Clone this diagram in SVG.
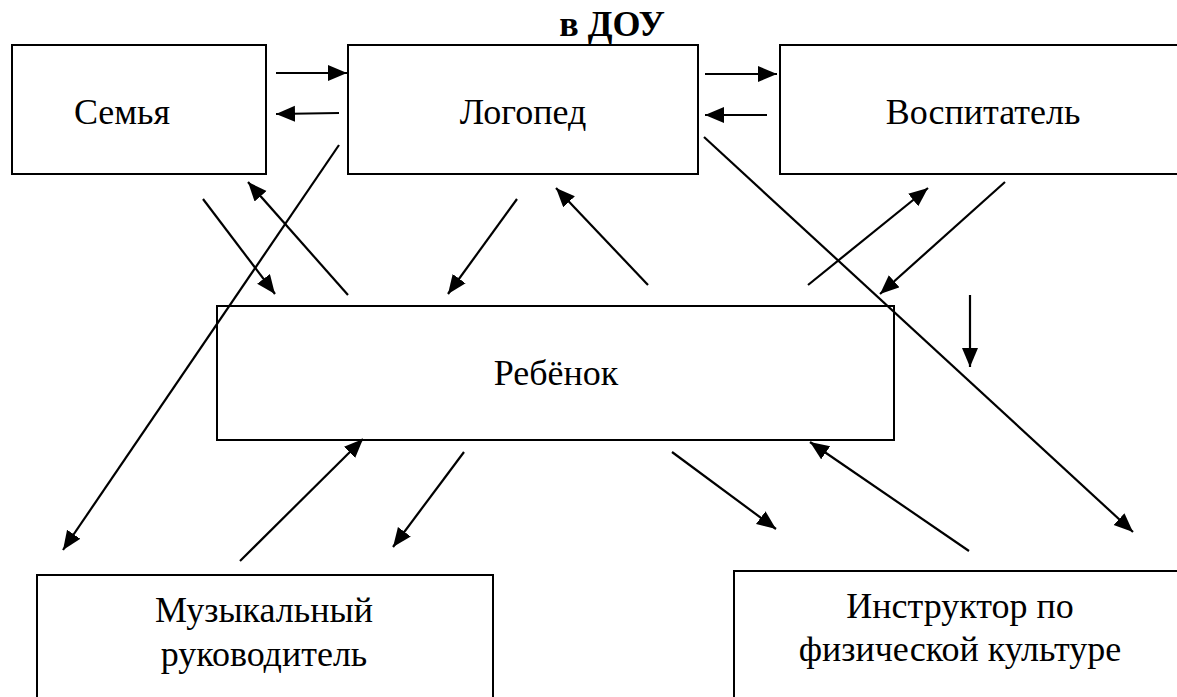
<svg xmlns="http://www.w3.org/2000/svg" width="1177" height="697" viewBox="0 0 1177 697">
<style>
.box{fill:#fff;stroke:#000;stroke-width:2}
.c line{stroke:#000;stroke-width:2.2}
.a{marker-end:url(#ah)}
</style>
<defs>
<marker id="ah" markerUnits="userSpaceOnUse" markerWidth="22" markerHeight="18" refX="19" refY="8" orient="auto">
<path d="M0,0 L19,8 L0,16 z" fill="#000"/>
</marker>
</defs>
<rect width="1177" height="697" fill="#fff"/>
<g font-family="Liberation Serif" font-size="36" fill="#000" text-anchor="middle">
<text x="612" y="36" font-weight="bold">в ДОУ</text>
<g id="family"><rect class="box" x="12" y="45" width="254" height="129"/><text x="122" y="124">Семья</text></g>
<g id="logoped"><rect class="box" x="348" y="45" width="350" height="129"/><text x="523" y="124">Логопед</text></g>
<g id="vospitatel"><rect class="box" x="780" y="45" width="410" height="129"/><text x="983" y="124">Воспитатель</text></g>
<g id="rebenok"><rect class="box" x="217" y="306" width="677" height="134"/><text x="556" y="385">Ребёнок</text></g>
<g id="music"><rect class="box" x="37" y="575" width="456" height="140"/><text x="264" y="622">Музыкальный</text><text x="264" y="666">руководитель</text></g>
<g id="instructor"><rect class="box" x="734" y="571" width="460" height="140"/><text x="960" y="618">Инструктор по</text><text x="960" y="661">физической культуре</text></g>
</g>
<g class="c" id="connectors">
<line class="a" x1="276" y1="73" x2="347" y2="73"/>
<line class="a" x1="339" y1="113" x2="276" y2="114"/>
<line class="a" x1="705" y1="74" x2="777" y2="74"/>
<line class="a" x1="767" y1="115" x2="705" y2="115"/>
<line class="a" x1="339" y1="145" x2="63" y2="550"/>
<line class="a" x1="203" y1="199" x2="275" y2="294"/>
<line class="a" x1="348" y1="295" x2="248" y2="182"/>
<line class="a" x1="517" y1="199" x2="448" y2="294"/>
<line class="a" x1="648" y1="285" x2="556" y2="188"/>
<line class="a" x1="704" y1="137" x2="1133" y2="532"/>
<line class="a" x1="808" y1="285" x2="928" y2="188"/>
<line class="a" x1="1005" y1="182" x2="880" y2="294"/>
<line class="a" x1="970" y1="295" x2="970" y2="367"/>
<line class="a" x1="240" y1="561" x2="363" y2="439"/>
<line class="a" x1="464" y1="452" x2="393" y2="547"/>
<line class="a" x1="672" y1="452" x2="776" y2="529"/>
<line class="a" x1="969" y1="551" x2="810" y2="442"/>
</g>
</svg>
